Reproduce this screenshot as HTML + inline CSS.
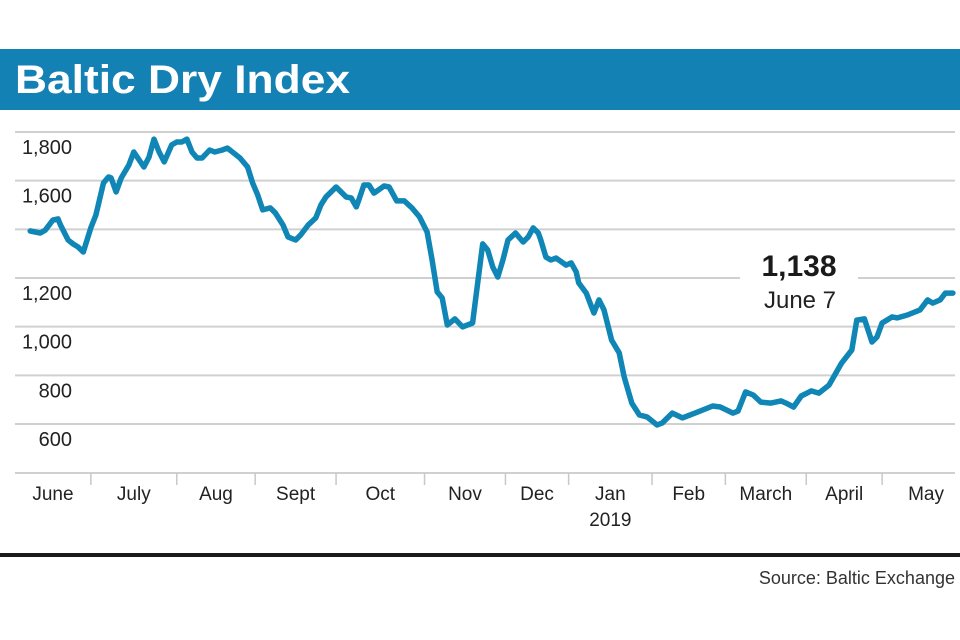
<!DOCTYPE html>
<html><head><meta charset="utf-8"><style>
html,body{margin:0;padding:0;background:#fff;}
svg{display:block;font-family:"Liberation Sans",sans-serif;}
</style></head><body>
<svg id="chart" width="960" height="640" viewBox="0 0 960 640">
<rect x="0" y="49" width="960" height="61" fill="#1481b4"/>
<text x="15" y="93" font-size="40" font-weight="bold" fill="#fff" textLength="335" lengthAdjust="spacingAndGlyphs">Baltic Dry Index</text>
<g id="grid"></g>
<g id="yaxis"></g>
<g id="xaxis"></g>
<rect x="740" y="262" width="118" height="50" fill="#fff"/>
<text x="799" y="276" font-size="30" font-weight="bold" text-anchor="middle" fill="#1a1a1a">1,138</text>
<text x="800" y="308" font-size="24" text-anchor="middle" fill="#222">June 7</text>
<path id="line" fill="none" stroke="#0f86b6" stroke-width="5.5" stroke-linejoin="round" stroke-linecap="round"/>
<rect x="0" y="553" width="960" height="4" fill="#1a1a1a"/>
<text x="955" y="584" font-size="18" text-anchor="end" fill="#333">Source: Baltic Exchange</text>
</svg>
<script>
const days = [6,10,12,15,17,18,21,23,25,27,30,32,35,37,38,40,42,45,47,51,53,55,57,59,62,64,66,68,70,72,74,77,79,82,84,86,89,92,94,96,98,101,103,106,108,111,113,116,119,121,123,127,131,133,135,136,138,140,142,146,148,151,154,157,160,163,165,167,169,171,174,177,181,182,185,187,189,191,193,195,198,201,203,205,207,208,210,212,214,218,220,222,223,226,229,231,233,236,239,241,244,247,250,254,256,260,264,270,276,279,284,286,289,292,295,299,303,305,308,311,315,318,322,327,331,333,336,339,341,343,347,349,353,358,361,363,366,368,371];
const values = [1393,1385,1397,1438,1443,1418,1356,1340,1327,1307,1406,1459,1591,1615,1611,1554,1611,1664,1718,1656,1697,1771,1718,1677,1747,1759,1759,1771,1718,1693,1693,1726,1718,1726,1734,1718,1693,1656,1591,1541,1480,1488,1467,1418,1369,1356,1377,1418,1447,1500,1533,1574,1533,1529,1492,1521,1582,1582,1549,1578,1574,1517,1517,1488,1451,1389,1274,1143,1118,1007,1032,999,1015,1097,1340,1315,1245,1204,1274,1356,1385,1348,1369,1406,1385,1356,1286,1274,1282,1253,1262,1225,1180,1138,1056,1110,1069,945,892,793,686,637,629,596,604,645,625,649,674,670,645,653,732,719,690,686,695,686,670,715,736,727,760,851,904,1027,1032,937,958,1015,1040,1036,1048,1069,1110,1097,1110,1138,1138];
const yTicks = [600,800,1000,1200,1400,1600,1800];
const yTickLabels = ["600","800","1,000","1,200","","1,600","1,800"];
const monthTickDays = [30,64,95,127,162,194,219,252,281,313,343];
const monthLabels = ["June","July","Aug","Sept","Oct","Nov","Dec","Jan","Feb","March","April","May"];

const NS = "http://www.w3.org/2000/svg";
const X0 = 15, X1 = 955, XSLOPE = 2.528;
function xScale(d){ return X0 + d*XSLOPE; }
function yScale(v){ return 424 - (v-600)*0.24333; }
function mk(tag, attrs, parent){ const e=document.createElementNS(NS,tag); for(const k in attrs) e.setAttribute(k,attrs[k]); parent.appendChild(e); return e; }

const grid = document.getElementById('grid');
const yaxis = document.getElementById('yaxis');
yTicks.forEach((t,i)=>{
  const y = yScale(t);
  const l = mk('line',{x1:X0,x2:X1,y1:y,y2:y,stroke:'#d0d0d0','stroke-width':2},grid);
  
  
  if (yTickLabels[i]) {
    const tx = mk('text',{x:72,y:y+22,'font-size':20,'text-anchor':'end',fill:'#222'},yaxis);
    tx.textContent = yTickLabels[i];
    
    
  }
});

const xaxis = document.getElementById('xaxis');
const axis = mk('line',{x1:X0,x2:X1,y1:473,y2:473,stroke:'#d0d0d0','stroke-width':2},xaxis);


const bounds = [0].concat(monthTickDays).concat([(970-X0)/XSLOPE]);
monthTickDays.forEach(d=>{
  const x = xScale(d);
  const t = mk('line',{x1:x,x2:x,y1:473,y2:485,stroke:'#c8c8c8','stroke-width':1.5},xaxis);
  
  
});
monthLabels.forEach((m,i)=>{
  const cx = (xScale(bounds[i])+xScale(bounds[i+1]))/2;
  const tx = mk('text',{x:cx,y:500,'font-size':19,'text-anchor':'middle',fill:'#222'},xaxis);
  tx.textContent = m;
  
  
  if (m==="Jan") {
    const yr = mk('text',{x:cx,y:526,'font-size':19,'text-anchor':'middle',fill:'#222'},xaxis);
    yr.textContent = "2019";
    
    
  }
});

let dstr = "";
days.forEach((d,i)=>{ dstr += (i?"L":"M") + xScale(d).toFixed(1) + "," + yScale(values[i]).toFixed(1); });
document.getElementById('line').setAttribute('d', dstr);
</script>
</body></html>
